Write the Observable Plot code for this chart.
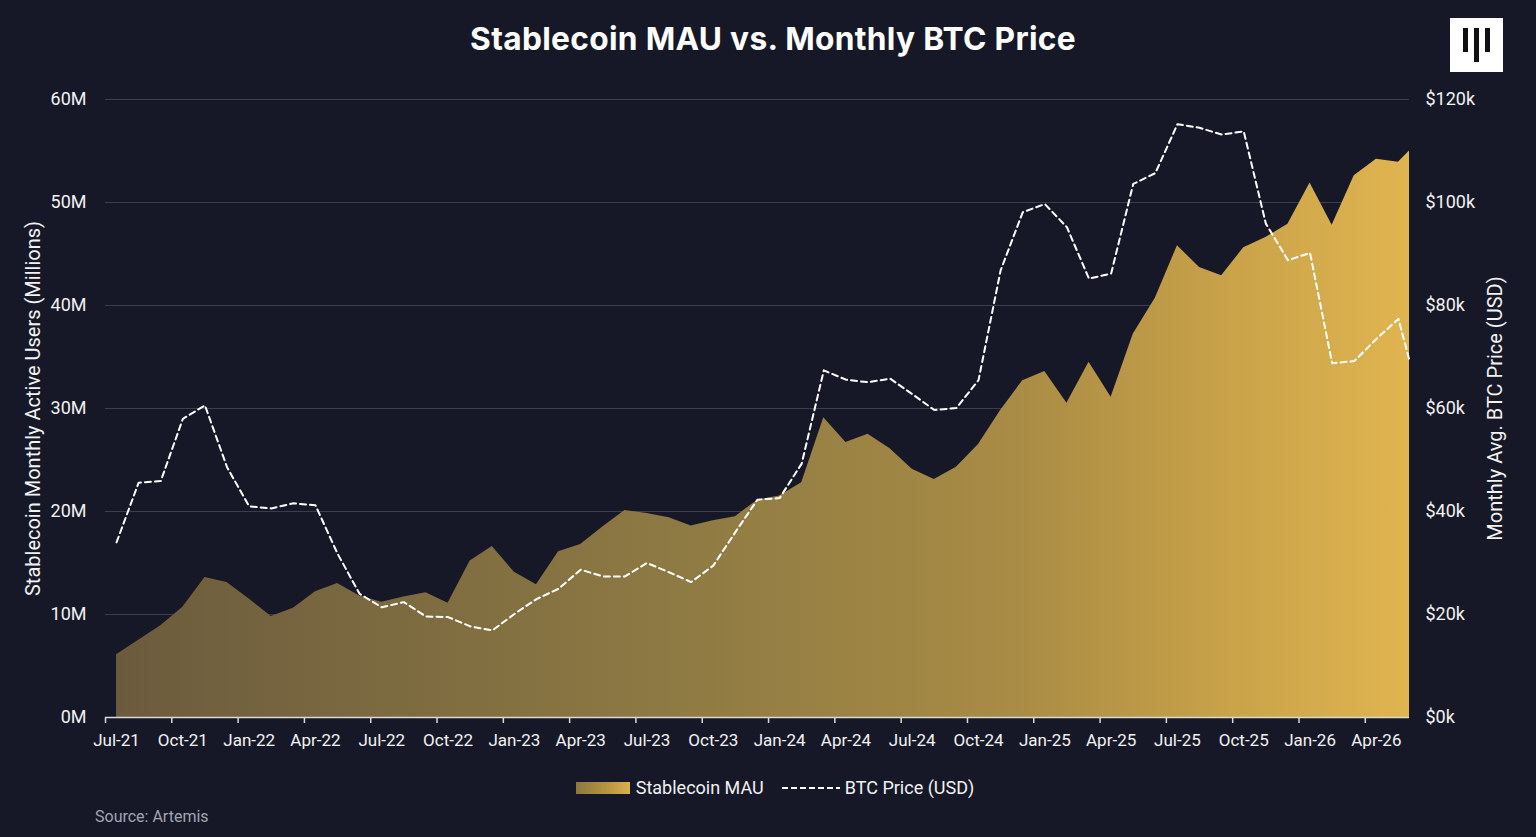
<!DOCTYPE html>
<html>
<head>
<meta charset="utf-8">
<script src="https://cdn.jsdelivr.net/npm/d3@7"></script>
<script src="https://cdn.jsdelivr.net/npm/@observablehq/plot@0.6"></script>
<style>
  html, body { margin: 0; padding: 0; background: #161828; width: 1536px; height: 837px; overflow: hidden; font-family: Roboto, "Noto Sans", sans-serif; color: #fff; }
  #title { position: absolute; left: 0; top: 19px; width: 1546px; text-align: center; font-family: Inter, "Open Sans", sans-serif; font-weight: 700; font-size: 31.7px; letter-spacing: 0.3px; color: #fff; }
  #logo { position: absolute; left: 1450px; top: 18px; width: 53px; height: 54px; background: #fff; }
  #logo span { position: absolute; background: #111; width: 5px; top: 10px; }
  #chart { position: absolute; left: 0; top: 75px; }
  #legend { position: absolute; left: 0; top: 777px; width: 1536px; display: flex; justify-content: center; align-items: center; font-size: 18px; color: #f2f2f2; padding-left: 14px; box-sizing: border-box; }
  #legend .item { display: flex; align-items: center; margin: 0 9px; }
  #legend .sw { width: 54px; height: 12px; margin-right: 6px; background: linear-gradient(90deg, #8d7840, #b8963f 60%, #dcb14d); }
  #source { position: absolute; left: 95px; top: 807px; font-size: 16px; color: #a3a5ae; }
</style>
</head>
<body>
<div id="title">Stablecoin MAU vs. Monthly BTC Price</div>
<div id="logo"><span style="left:13px;height:24px"></span><span style="left:24px;height:34px"></span><span style="left:35px;height:24px"></span></div>
<div id="chart"></div>
<div id="legend">
  <div class="item"><div class="sw"></div><span>Stablecoin MAU</span></div>
  <div class="item"><svg width="58" height="12" style="margin-right:5px"><line x1="0" x2="58" y1="6" y2="6" stroke="#fff" stroke-width="2" stroke-dasharray="6 3"/></svg><span>BTC Price (USD)</span></div>
</div>
<div id="source">Source: Artemis</div>
<script>
// Month categories (Jul-21 .. May-26), plus the latest partial reading at the right edge
const months = [
  "Jul-21","Aug-21","Sep-21","Oct-21","Nov-21","Dec-21",
  "Jan-22","Feb-22","Mar-22","Apr-22","May-22","Jun-22","Jul-22","Aug-22","Sep-22","Oct-22","Nov-22","Dec-22",
  "Jan-23","Feb-23","Mar-23","Apr-23","May-23","Jun-23","Jul-23","Aug-23","Sep-23","Oct-23","Nov-23","Dec-23",
  "Jan-24","Feb-24","Mar-24","Apr-24","May-24","Jun-24","Jul-24","Aug-24","Sep-24","Oct-24","Nov-24","Dec-24",
  "Jan-25","Feb-25","Mar-25","Apr-25","May-25","Jun-25","Jul-25","Aug-25","Sep-25","Oct-25","Nov-25","Dec-25",
  "Jan-26","Feb-26","Mar-26","Apr-26","May-26","Latest"
];

// Stablecoin monthly active users (millions)
const mau = [
  6.1, 7.5, 8.9, 10.7, 13.6, 13.1,
  11.5, 9.8, 10.6, 12.2, 13.0, 11.8, 11.2, 11.7, 12.1, 11.1, 15.2, 16.6,
  14.1, 12.9, 16.1, 16.8, 18.5, 20.1, 19.8, 19.4, 18.6, 19.1, 19.5, 21.1,
  21.5, 22.8, 29.1, 26.7, 27.5, 26.1, 24.1, 23.1, 24.3, 26.5, 29.8, 32.7,
  33.6, 30.5, 34.5, 31.1, 37.2, 40.7, 45.8, 43.7, 42.9, 45.6, 46.6, 47.9,
  51.9, 47.8, 52.6, 54.2, 53.9, 55.0
];

// Monthly average BTC price (thousands USD)
const btc = [
  34.0, 45.6, 45.9, 58.0, 60.6, 48.6,
  41.0, 40.6, 41.6, 41.2, 31.8, 24.0, 21.4, 22.4, 19.6, 19.5, 17.7, 16.9,
  20.1, 23.0, 25.0, 28.7, 27.4, 27.4, 30.0, 28.2, 26.3, 29.5, 36.0, 42.3,
  42.6, 49.3, 67.4, 65.6, 65.1, 65.8, 62.8, 59.7, 60.1, 65.5, 86.8, 98.1,
  99.7, 95.2, 85.2, 86.2, 103.6, 105.7, 115.2, 114.5, 113.2, 113.8, 95.9, 88.8,
  90.2, 68.8, 69.2, 73.5, 77.4, 69.3
];

// Axis tick labels (every third month) and axis titles
const tickLabels = ["Jul-21","Oct-21","Jan-22","Apr-22","Jul-22","Oct-22","Jan-23","Apr-23","Jul-23","Oct-23",
  "Jan-24","Apr-24","Jul-24","Oct-24","Jan-25","Apr-25","Jul-25","Oct-25","Jan-26","Apr-26"];
const mauTicks = [0, 10, 20, 30, 40, 50, 60];
const leftTitle = "Stablecoin Monthly Active Users (Millions)";
const rightTitle = "Monthly Avg. BTC Price (USD)";

const nMonths = months.length - 1; // full monthly bands
const data = months.map((m, i) => ({
  month: m,
  x: i < nMonths ? i + 0.5 : nMonths, // month centre; latest reading at the right edge
  mau: mau[i],
  btc: btc[i]
}));
const tickPos = tickLabels.map(l => months.indexOf(l));

const gradientDefs = () => {
  const ns = "http://www.w3.org/2000/svg";
  const defs = document.createElementNS(ns, "defs");
  defs.innerHTML = `<linearGradient id="mauGrad" x1="0" x2="1" y1="0" y2="0">
      <stop offset="0" stop-color="#6b5b3d"/>
      <stop offset="0.45" stop-color="#8f7b43"/>
      <stop offset="0.7" stop-color="#a98c45"/>
      <stop offset="0.86" stop-color="#c9a249"/>
      <stop offset="1" stop-color="#e0b550"/>
    </linearGradient>`;
  return defs;
};

const chart = Plot.plot({
  width: 1536,
  height: 687,
  marginLeft: 105,
  marginRight: 127,
  marginTop: 24,
  marginBottom: 45,
  style: { background: "transparent", color: "#f2f2f2", fontFamily: "Roboto, sans-serif", fontSize: "17px" },
  x: { type: "linear", domain: [0, nMonths] },
  y: { domain: [0, 60] },
  marks: [
    gradientDefs,
    Plot.gridY(mauTicks, { stroke: "#3c3e50", strokeOpacity: 1, strokeWidth: 1 }),
    Plot.areaY(data, { x: "x", y: "mau", fill: "url(#mauGrad)", curve: "linear" }),
    Plot.lineY(data, { x: "x", y: d => d.btc / 2, stroke: "#ffffff", strokeWidth: 2, strokeDasharray: "6 4", curve: "linear" }),
    Plot.ruleY([0], { stroke: "#d9d9d9", strokeWidth: 1.5 }),
    Plot.axisX({ ticks: tickPos, tickFormat: () => "", tickSize: 6, stroke: "#d9d9d9", strokeWidth: 1.5, label: null }),
    Plot.axisX({ ticks: tickPos.map(t => t + 0.5), tickFormat: d => tickLabels[Math.round((d - 0.5) / 3)], tickSize: 0, tickPadding: 16, label: null, fill: "#f2f2f2" }),
    Plot.axisY({ anchor: "left", ticks: mauTicks, tickFormat: d => d + "M", tickSize: 0, tickPadding: 19, label: null, fontSize: 18 }),
    Plot.axisY({ anchor: "right", ticks: mauTicks, tickFormat: d => "$" + (d * 2) + "k", tickSize: 0, tickPadding: 16, label: null, fontSize: 18 }),
    Plot.text([leftTitle], { frameAnchor: "left", textAnchor: "middle", rotate: -90, dx: -72, fontSize: 20, fill: "#f2f2f2" }),
    Plot.text([rightTitle], { frameAnchor: "right", textAnchor: "middle", rotate: -90, dx: 86, fontSize: 20, fill: "#f2f2f2" })
  ]
});
document.getElementById("chart").appendChild(chart);
</script>
</body>
</html>
